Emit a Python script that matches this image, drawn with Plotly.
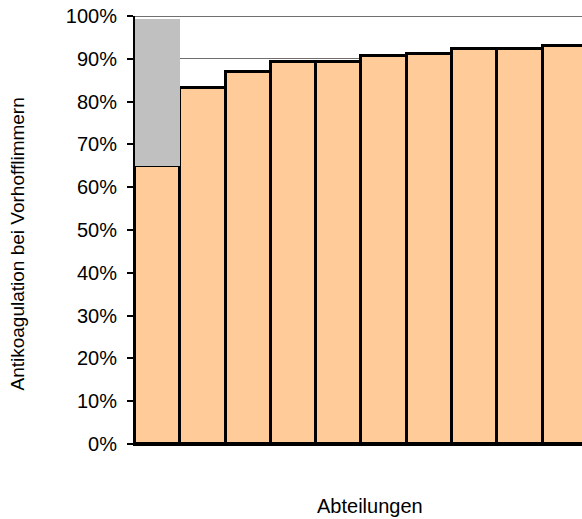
import plotly.graph_objects as go

# Anteil der Patienten mit Antikoagulation je Abteilung (in %)
abteilungen = ["A1", "A2", "A3", "A4", "A5", "A6", "A7", "A8", "A9", "A10"]
antikoagulation = [65.0, 83.1, 87.0, 89.2, 89.2, 90.7, 91.1, 92.2, 92.2, 93.1]
# zusätzlicher grauer Anteil (nur erste Abteilung)
zusatz = [34.4, 0, 0, 0, 0, 0, 0, 0, 0, 0]
y_ticks = list(range(0, 101, 10))
y_ticktext = [f"{v}%" for v in y_ticks]

FONT = "Liberation Sans, Arial, sans-serif"
W, H = 582, 519
L, R, T, B = 135, 0, 16, 75
plot_w = W - L - R
plot_h = H - T - B

fig = go.Figure()
fig.add_trace(go.Bar(
    x=abteilungen, y=antikoagulation,
    marker=dict(color="#FFCC99", line=dict(color="black", width=3)),
    hoverinfo="y",
))
fig.add_trace(go.Bar(
    x=abteilungen, y=zusatz,
    marker=dict(color="#C0C0C0", line=dict(width=0)),
    hoverinfo="y",
))

fig.update_layout(
    width=W, height=H,
    margin=dict(l=L, r=R, t=T, b=B, pad=0),
    barmode="stack", bargap=0,
    showlegend=False,
    plot_bgcolor="white", paper_bgcolor="white",
    font=dict(family=FONT, color="black", size=20),
)
fig.update_xaxes(
    range=[-0.5, 9.37],
    showticklabels=False, ticks="",
    showgrid=False, zeroline=False,
    showline=True, linecolor="black", linewidth=2,
)
fig.update_yaxes(
    range=[0, 100],
    tickvals=y_ticks, ticktext=y_ticktext,
    ticks="outside", ticklen=6, tickwidth=1.5, tickcolor="black",
    tickfont=dict(family=FONT, size=20, color="black"),
    ticklabelstandoff=6,
    showgrid=True, gridcolor="#6e6e6e", gridwidth=1.2,
    zeroline=False,
    showline=True, linecolor="black", linewidth=2,
)

# Gitterlinie bei 100 % (Oberkante der Zeichenfläche)
fig.add_shape(
    type="line", xref="paper", yref="y",
    x0=0, x1=1, y0=100, y1=100,
    line=dict(color="#404040", width=1.5),
    layer="below",
)

fig.add_annotation(
    text="Antikoagulation bei Vorhofflimmern",
    xref="paper", yref="paper",
    x=(17.5 - L) / plot_w, y=(444 - 244) / plot_h,
    xanchor="center", yanchor="middle",
    textangle=-90, showarrow=False,
    font=dict(family=FONT, size=19, color="black"),
)
fig.add_annotation(
    text="Abteilungen",
    xref="paper", yref="paper",
    x=(370 - L) / plot_w, y=(444 - 506) / plot_h,
    xanchor="center", yanchor="middle",
    showarrow=False,
    font=dict(family=FONT, size=20, color="black"),
)

fig.write_html("out.html")
